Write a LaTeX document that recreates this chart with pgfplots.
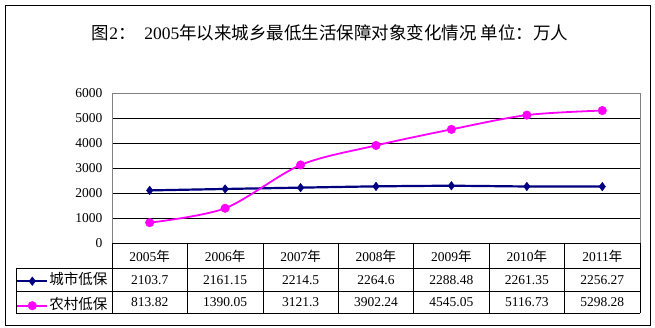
\documentclass[border=0pt]{standalone}
\usepackage{fontspec}
\setmainfont{Liberation Serif}
\newfontfamily\cjk{Noto Sans CJK SC}
\usepackage{pgfplots}
\pgfplotsset{compat=1.18}
\definecolor{navyc}{RGB}{0,0,128}
\definecolor{magc}{RGB}{255,0,255}
\begin{document}
\begin{tikzpicture}
\path[use as bounding box] (0,0) rectangle (655pt,-328pt);
\draw[black, line width=0.8pt] (5pt,-5pt) rectangle (650pt,-325pt);
\node[font=\fontsize{17.5}{20}\selectfont] at (330pt,-33pt) {{\cjk 图}2{\cjk ：}\ \ 2005{\cjk 年以来城乡最低生活保障对象变化情况\ 单位：万人}};
\begin{axis}[
 at={(112pt,-243pt)}, anchor=south west,
 width=528pt, height=150pt, scale only axis,
 xmin=-0.5, xmax=6.5, ymin=0, ymax=6000,
 ytick={1000,2000,3000,4000,5000},
 extra y ticks={0,6000},
 extra y tick style={grid=none},
 xtick={0,...,6}, xticklabels={},
 major tick length=0pt,
 ymajorgrids, grid style={black, line width=0.6pt},
 axis line style={draw=gray, line width=0.6pt},
 yticklabel style={font=\fontsize{13.5}{15}\selectfont, anchor=east, xshift=-6pt},
 /pgf/number format/assume math mode=true,
 /pgf/number format/1000 sep={},
 clip=false,
 legend style={at={(axis description cs:-0.1875,-0.185)}, anchor=north west, draw=none, fill=none,
   font=\fontsize{14.5}{16}\selectfont, row sep=8pt,
   nodes={inner sep=1pt, text height=11pt, text depth=3.5pt}},
 legend cell align=left,
 legend image code/.code={\draw[mark repeat=2,mark phase=2] plot coordinates {(0pt,0pt)(15pt,0pt)(30pt,0pt)};},
]
\addplot[navyc, line width=2.2pt, smooth, mark=diamond*, mark size=4.3pt, mark options={fill=navyc, line width=0.4pt}]
 coordinates {(0,2103.7)(1,2161.15)(2,2214.5)(3,2264.6)(4,2288.48)(5,2261.35)(6,2256.27)};
\addlegendentry{\cjk 城市低保}
\addplot[magc, line width=1.8pt, smooth, mark=*, mark size=4.3pt, mark options={fill=magc, line width=0.4pt}]
 coordinates {(0,813.82)(1,1390.05)(2,3121.3)(3,3902.24)(4,4545.05)(5,5116.73)(6,5298.28)};
\addlegendentry{\cjk 农村低保}
\end{axis}
\begin{scope}[x=1pt,y=-1pt]
\draw[black, line width=0.6pt] (16,268) -- (640,268) (16,291) -- (640,291) (16,313) -- (640,313)
  (16,268) -- (16,313) (112,243) -- (112,313) (640,243) -- (640,313) (112,243) -- (640,243);
\foreach \i in {1,...,6} \draw[black, line width=0.6pt] ({112+75.43*\i},243) -- ({112+75.43*\i},313);
\foreach \y [count=\i from 0] in {2005,2006,2007,2008,2009,2010,2011}
  \node[font=\fontsize{13.5}{15}\selectfont] at ({149.7+75.43*\i},256) {\y{\cjk 年}};
\foreach \v [count=\i from 0] in {2103.7,2161.15,2214.5,2264.6,2288.48,2261.35,2256.27}
  \node[font=\fontsize{13.5}{15}\selectfont] at ({149.7+75.43*\i},280) {\v};
\foreach \v [count=\i from 0] in {813.82,1390.05,3121.3,3902.24,4545.05,5116.73,5298.28}
  \node[font=\fontsize{13.5}{15}\selectfont] at ({149.7+75.43*\i},302) {\v};
\end{scope}
\end{tikzpicture}
\end{document}
